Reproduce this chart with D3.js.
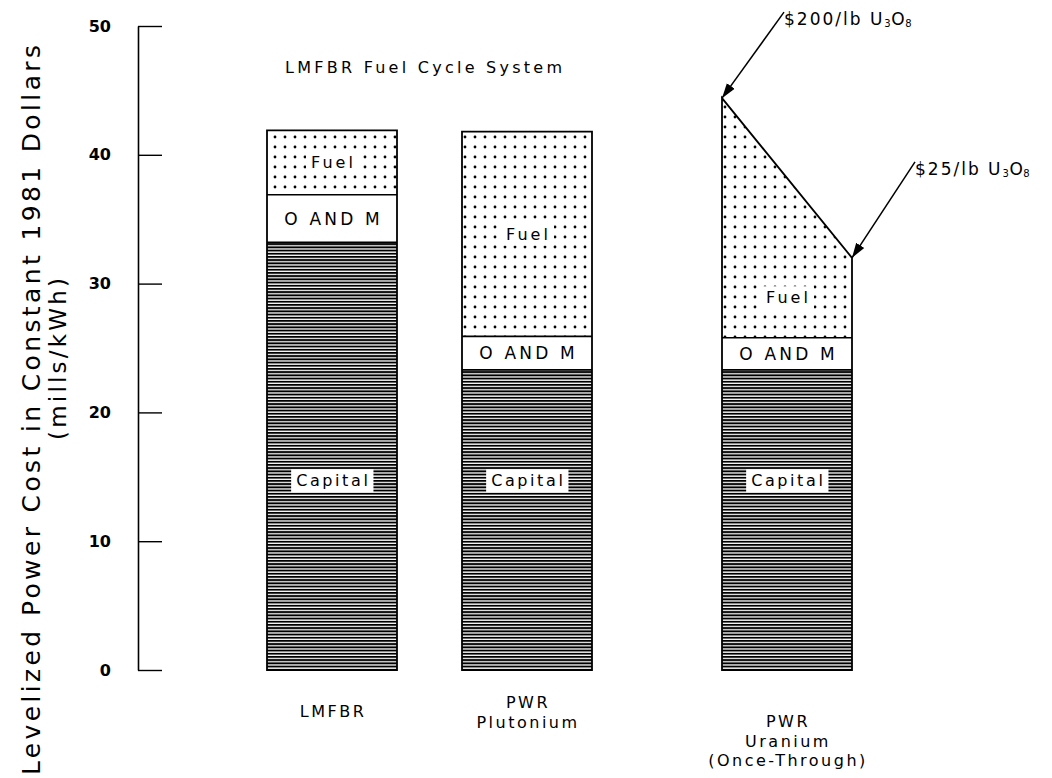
<!DOCTYPE html>
<html><head><meta charset="utf-8">
<script src="https://cdn.jsdelivr.net/npm/d3@7"></script>
<style>
body{margin:0;background:#fff}
svg text{font-family:"DejaVu Sans",sans-serif;fill:#000}
</style>
</head><body>
<svg id="chart" width="1052" height="778"></svg>
<script>
// ---------------- data ----------------
const categories = ["LMFBR", "PWR Plutonium", "PWR Uranium (Once-Through)"];
const categoryLines = [["LMFBR"], ["PWR", "Plutonium"], ["PWR", "Uranium", "(Once-Through)"]];
const groups = ["LMFBR Fuel Cycle System", "LMFBR Fuel Cycle System", "Once-Through"];
const capital = [33.2, 23.3, 23.3];
const oAndM = [3.7, 2.6, 2.5];
const fuelLow = [5.0, 15.9, 6.2];    // once-through at $25/lb U3O8
const fuelHigh = [5.0, 15.9, 18.6];  // once-through at $200/lb U3O8
const yTicks = [0, 10, 20, 30, 40, 50];
const segmentNames = ["Capital", "O AND M", "Fuel"];
const groupTitle = "LMFBR Fuel Cycle System";
const priceLabels = ["$200/lb U", "$25/lb U"];
const yTitle = "Levelized Power Cost in Constant 1981 Dollars";
const yUnits = "(mills/kWh)";

// ---------------- layout ----------------
const svg = d3.select("#chart");
const groupNames = Array.from(new Set(groups));
const slot = categories.map((c, i) => 3 * i + groupNames.indexOf(groups[i]));
const x = d3.scaleLinear().domain([d3.min(slot) - 1, d3.max(slot) + 1]).range([267, 852]);
const y = d3.scaleLinear().domain([0, 50]).range([670, 26]);

// patterns
const defs = svg.append("defs");
const pd = defs.append("pattern").attr("id", "dots").attr("patternUnits", "userSpaceOnUse")
  .attr("width", 10).attr("height", 10).attr("x", 0).attr("y", 2);
pd.append("rect").attr("width", 10).attr("height", 10).attr("fill", "#fff");
pd.append("circle").attr("cx", 5).attr("cy", 5).attr("r", 1.4).attr("fill", "#000");
const pl = defs.append("pattern").attr("id", "lines").attr("patternUnits", "userSpaceOnUse")
  .attr("width", 20).attr("height", 3.2);
pl.append("rect").attr("width", 20).attr("height", 3.2).attr("fill", "#fff");
pl.append("rect").attr("width", 20).attr("height", 1.9).attr("fill", "#000");

// axis
const axis = d3.axisLeft(y).tickValues(yTicks).tickSizeInner(-24).tickSizeOuter(0).tickPadding(27);
const ag = svg.append("g").attr("transform", "translate(138,0)").call(axis);
ag.select(".domain").attr("stroke", "#000").attr("stroke-width", 1.6);
ag.selectAll(".tick line").attr("stroke", "#000").attr("stroke-width", 1.4);
ag.selectAll(".tick text").attr("font-family", "DejaVu Sans").attr("font-size", 16)
  .attr("font-weight", "bold").attr("fill", "#000");

// axis titles
svg.append("text").attr("transform", "translate(40,410) rotate(-90)")
  .attr("text-anchor", "middle").attr("font-size", 25)
  .attr("textLength", 730).attr("lengthAdjust", "spacing").text(yTitle);
svg.append("text").attr("transform", "translate(66,359) rotate(-90)")
  .attr("text-anchor", "middle").attr("font-size", 23)
  .attr("textLength", 162).attr("lengthAdjust", "spacing").text(yUnits);

// bars
const bars = categories.map((c, i) => {
  const x0 = x(slot[i] - 1), x1 = x(slot[i] + 1);
  const c1 = capital[i], c2 = c1 + oAndM[i];
  return {i, x0, x1, c1, c2, topL: c2 + fuelHigh[i], topR: c2 + fuelLow[i]};
});
const bg = svg.append("g");
bg.selectAll("rect.cap").data(bars).join("rect").attr("class", "cap")
  .attr("x", d => d.x0).attr("width", d => d.x1 - d.x0)
  .attr("y", d => y(d.c1)).attr("height", d => y(0) - y(d.c1)).attr("fill", "url(#lines)");
bg.selectAll("rect.om").data(bars).join("rect").attr("class", "om")
  .attr("x", d => d.x0).attr("width", d => d.x1 - d.x0)
  .attr("y", d => y(d.c2)).attr("height", d => y(d.c1) - y(d.c2)).attr("fill", "#fff");
bg.selectAll("polygon.fuel").data(bars).join("polygon").attr("class", "fuel")
  .attr("points", d => [[d.x0, y(d.c2)], [d.x0, y(d.topL)], [d.x1, y(d.topR)], [d.x1, y(d.c2)]].join(" "))
  .attr("fill", "url(#dots)");
// segment borders
bars.forEach(d => {
  [d.c1, d.c2].forEach(v => bg.append("line").attr("x1", d.x0).attr("x2", d.x1)
    .attr("y1", y(v)).attr("y2", y(v)).attr("stroke", "#000").attr("stroke-width", 1.6));
});
bg.selectAll("polygon.outline").data(bars).join("polygon").attr("class", "outline")
  .attr("points", d => [[d.x0, y(0)], [d.x0, y(d.topL)], [d.x1, y(d.topR)], [d.x1, y(0)]].join(" "))
  .attr("fill", "none").attr("stroke", "#000").attr("stroke-width", 1.8).attr("stroke-linejoin", "miter");

// segment labels with white boxes
function boxedLabel(g, txt, cx, cy, size, spacing, box) {
  const t = g.append("text").attr("x", cx + spacing / 2).attr("y", cy).attr("text-anchor", "middle")
    .attr("dominant-baseline", "central").attr("font-size", size)
    .attr("letter-spacing", spacing).text(txt);
  if (box) {
    const b = t.node().getBBox();
    g.insert("rect", "text").attr("x", b.x - 5).attr("y", b.y - 2)
      .attr("width", b.width + 8).attr("height", b.height + 4).attr("fill", "#fff");
  }
}
const lg = svg.append("g");
bars.forEach(d => {
  const cx = (d.x0 + d.x1) / 2;
  boxedLabel(lg.append("g"), segmentNames[0], cx, y(14.7), 16, 2.6, true);
  boxedLabel(lg.append("g"), segmentNames[1], cx, (y(d.c1) + y(d.c2)) / 2, 17, 3.2, false);
  boxedLabel(lg.append("g"), segmentNames[2], cx, (y(d.c2) + y(d.c2 + fuelLow[d.i])) / 2, 16, 3, true);
});

// category labels
const cg = svg.append("g");
bars.forEach(d => {
  const lines = categoryLines[d.i];
  const base = lines.length === 1 ? 717 : (lines.length === 2 ? 708 : 727);
  lines.forEach((ln, k) => cg.append("text").attr("x", (d.x0 + d.x1) / 2 + 1).attr("y", base + k * 19.5)
    .attr("text-anchor", "middle").attr("font-size", 16).attr("letter-spacing", 2.5).text(ln));
});

// group title
svg.append("text").attr("x", 285).attr("y", 73).attr("font-size", 16)
  .attr("textLength", 277).attr("lengthAdjust", "spacing").text(groupTitle);

// price annotations with arrows
defs.append("marker").attr("id", "arr").attr("viewBox", "0 0 10 10").attr("refX", 10).attr("refY", 5)
  .attr("markerWidth", 15).attr("markerHeight", 15).attr("markerUnits", "userSpaceOnUse")
  .attr("orient", "auto").append("path").attr("d", "M0,1.8L10,5L0,8.2Z").attr("fill", "#000");
const uBar = bars[2];
const tips = [[uBar.x0, y(uBar.topL)], [uBar.x1, y(uBar.topR)]];
const offs = [[62, -86], [63, -96]];
tips.forEach((tp, k) => {
  const sx = tp[0] + offs[k][0], sy = tp[1] + offs[k][1];
  svg.append("line").attr("x1", sx).attr("y1", sy).attr("x2", tp[0]).attr("y2", tp[1])
    .attr("stroke", "#000").attr("stroke-width", 1.5).attr("marker-end", "url(#arr)");
  const t = svg.append("text").attr("x", sx).attr("y", sy + 13).attr("font-size", 17)
    .attr("letter-spacing", 2).text(priceLabels[k]);
  t.append("tspan").attr("font-size", 10).attr("dy", 2).attr("letter-spacing", 0.5).text("3");
  t.append("tspan").attr("font-size", 17).attr("dy", -2).attr("letter-spacing", 0.5).text("O");
  t.append("tspan").attr("font-size", 10).attr("dy", 2).attr("letter-spacing", 0).text("8");
});
</script>
</body></html>
